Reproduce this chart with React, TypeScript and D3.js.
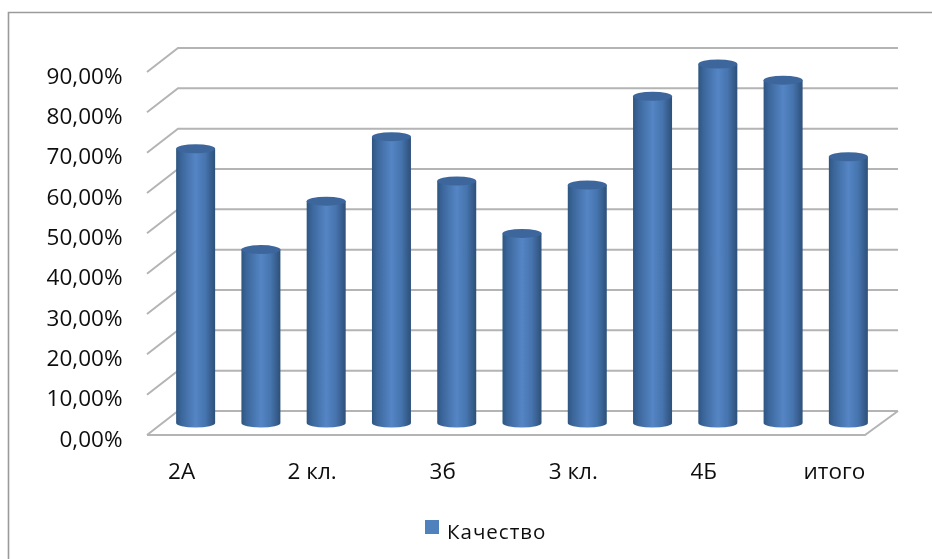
import React from "react";
import * as d3 from "d3";

const categories = ["2А", "b", "2 кл.", "d", "3б", "f", "3 кл.", "h", "4Б", "j", "итого"];
const hiddenCategories = ["b", "d", "f", "h", "j"];
const values = [68, 43, 55, 71, 60, 47, 59, 81, 89, 85, 66];
const yTicks = [0, 10, 20, 30, 40, 50, 60, 70, 80, 90];
const legendLabel = "Качество";

const W = 932;
const H = 559;
const FONT = "'Open Sans', sans-serif";
const DX = 31;
const DY = -24;

export default function App() {
  const x = d3.scaleBand<string>().domain(categories).range([147, 865]);
  const y = d3.scaleLinear().domain([0, 90]).range([435, 72]);
  const barW = 39;
  const ry = 4.5;
  const grid = "#b4b4b4";
  return (
    <svg
      width={W}
      height={H}
      viewBox={`0 0 ${W} ${H}`}
      style={{ position: "absolute", left: 0, top: 0, background: "#fff" }}
    >
      <defs>
        <linearGradient id="cyl" x1="0" x2="1" y1="0" y2="0">
          <stop offset="0" stopColor="#2e5580" />
          <stop offset="0.12" stopColor="#3a6599" />
          <stop offset="0.5" stopColor="#5585c5" />
          <stop offset="0.75" stopColor="#4674ae" />
          <stop offset="1" stopColor="#2d5079" />
        </linearGradient>
        <filter id="soft" x="-10%" y="-10%" width="120%" height="120%">
          <feGaussianBlur stdDeviation="0.5" />
        </filter>
        <filter id="softText" x="-5%" y="-5%" width="110%" height="110%">
          <feGaussianBlur stdDeviation="0.3" />
        </filter>
      </defs>
      <path d={`M932,12.5H8.5V559`} fill="none" stroke="#9a9a9a" strokeWidth={1.6} />
      <g stroke={grid} strokeWidth={2} fill="none" filter="url(#soft)">
        {yTicks.map((t) => (
          <path
            key={t}
            d={`M${x.range()[0]},${y(t)}L${x.range()[0] + DX},${y(t) + DY}H${x.range()[1] + DX + 2}`}
          />
        ))}
        <path d={`M${x.range()[0]},${y(0)}H${x.range()[1]}L${x.range()[1] + DX + 2},${y(0) + DY}`} />
      </g>
      <g filter="url(#soft)">
        {values.map((v, i) => {
          const c = categories[i];
          const cx = x(c)! + x.bandwidth() / 2 + 16;
          const base = y(0) - 12;
          const top = y(v) - 12;
          const l = cx - barW / 2;
          const r = cx + barW / 2;
          return (
            <g key={c}>
              <path
                d={`M${l},${top}L${l},${base}A${barW / 2},${ry} 0 0 0 ${r},${base}L${r},${top}Z`}
                fill="url(#cyl)"
              />
              <ellipse cx={cx} cy={top} rx={barW / 2} ry={ry} fill="#3c669c" />
            </g>
          );
        })}
      </g>
      <g fontFamily={FONT} fontSize={22.5} fill="#111" filter="url(#softText)">
        {yTicks.map((t) => (
          <text key={t} x={122.5} y={y(t) + 11.5} textAnchor="end">
            {`${t},00%`}
          </text>
        ))}
        {categories
          .filter((c) => !hiddenCategories.includes(c))
          .map((c) => (
            <text key={c} x={x(c)! + x.bandwidth() / 2 + 2} y={479} textAnchor="middle">
              {c}
            </text>
          ))}
      </g>
      <rect x={425} y={520} width={14} height={14} fill="#4f81bd" />
      <text x={447} y={539} fontFamily={FONT} fontSize={20.5} letterSpacing={1} fill="#111" filter="url(#softText)">
        {legendLabel}
      </text>
    </svg>
  );
}
